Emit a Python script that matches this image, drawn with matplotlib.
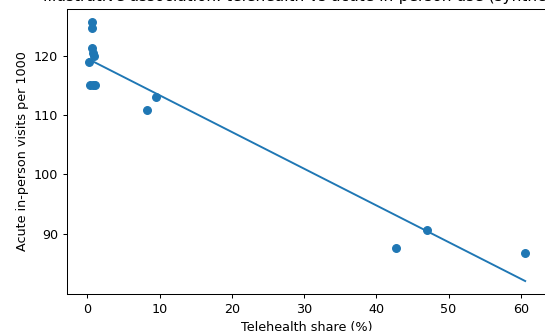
import matplotlib
matplotlib.use("Agg")
import matplotlib.pyplot as plt

# Data
tele_share = [0.7, 0.6, 0.6, 0.8, 0.9, 0.2, 0.3, 0.8, 1.1, 8.2, 9.5, 42.7, 47.0, 60.6]
acute_visits = [125.7, 124.6, 121.3, 120.5, 120.0, 118.9, 115.1, 115.1, 115.1,
                110.8, 113.0, 87.6, 90.6, 86.8]
fit_x = [0.2, 60.6]
fit_y = [119.4, 82.0]

title = "Illustrative association: telehealth vs acute in-person use (synthetic)"
xlabel = "Telehealth share (%)"
ylabel = "Acute in-person visits per 1000"

DPI = 92
fig = plt.figure(figsize=(545 / DPI, 331 / DPI), dpi=DPI)
W, H = 545, 331
left, right, top, bottom = 67, 547, 9, 294
ax = fig.add_axes([left / W, 1 - bottom / H, (right - left) / W, (bottom - top) / H])

ax.scatter(tele_share, acute_visits, color="C0", zorder=3)
ax.plot(fit_x, fit_y, color="C0", zorder=2)

ax.set_title(title)
ax.set_xlabel(xlabel)
ax.set_ylabel(ylabel)
ax.set_yticks([90, 100, 110, 120])

fig.savefig("out.png", dpi=DPI)
